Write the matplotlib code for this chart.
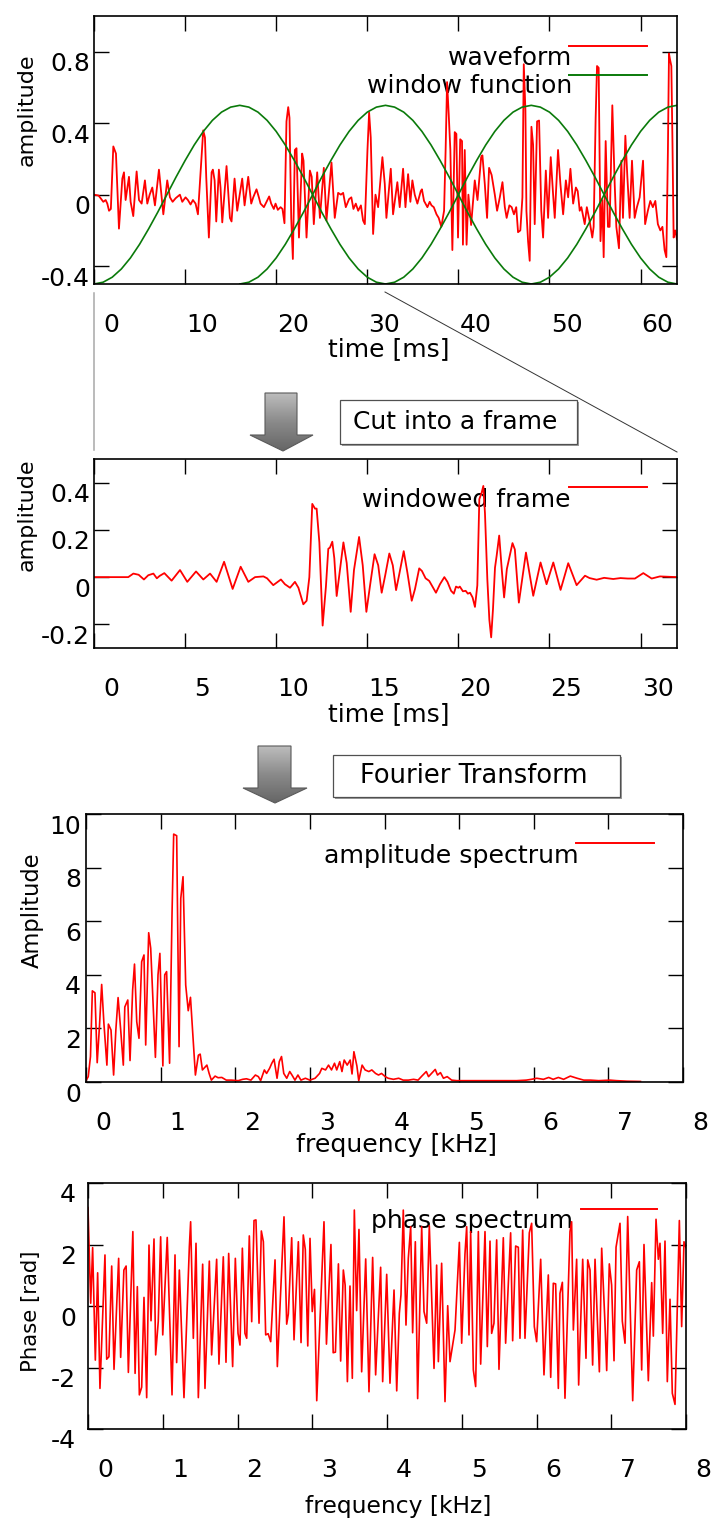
import numpy as np
import matplotlib
matplotlib.use('Agg')
import matplotlib.pyplot as plt
from matplotlib.patches import Polygon, Rectangle
from matplotlib.lines import Line2D
from matplotlib.colors import LinearSegmentedColormap
from matplotlib.transforms import ScaledTranslation

W, H = 713, 1521

# speech waveform, time [ms] / amplitude
wave_t = [0.0, 0.5, 0.73, 1.02, 1.28, 1.46, 1.65, 1.85, 2.12, 2.27, 2.41, 2.74, 3.11, 3.29, 3.47,
          3.84, 4.02, 4.31, 4.68, 4.94, 5.23, 5.59, 5.85, 6.11, 6.40, 6.69, 7.13, 7.61, 8.04, 8.34,
          8.63, 8.96, 9.43, 9.69, 10.05, 10.31, 10.60, 10.86, 11.15, 11.41, 11.70, 11.99, 12.18,
          12.32, 12.61, 12.91, 13.05, 13.24, 13.42, 13.71, 13.89, 14.08, 14.55, 14.92, 15.10, 15.43,
          15.72, 16.27, 16.53, 16.93, 17.26, 17.48, 17.84, 18.10, 18.28, 18.65, 18.94, 19.23, 19.45,
          19.74, 19.93, 20.18, 20.48, 20.69, 20.91, 21.13, 21.32, 21.46, 21.65, 21.83, 22.05, 22.23,
          22.5, 22.85, 23.0, 23.33, 23.7, 23.9, 24.13, 24.5, 24.8, 25.23, 25.52, 26.07, 26.43, 26.8,
          27.1, 27.35, 27.64, 28.0, 28.25, 28.48, 28.74, 29.0, 29.3, 29.54, 29.73, 30.02, 30.2,
          30.38, 30.64, 30.9, 31.19, 31.66, 31.92, 32.1, 32.58, 32.83, 33.3, 33.56, 33.93, 34.19,
          34.48, 34.73, 34.95, 35.21, 35.5, 35.87, 36.0, 36.23, 36.6, 36.85, 37.05, 37.3, 37.6,
          37.84, 38.13, 38.43, 38.6, 38.76, 38.94, 39.12, 39.34, 39.6, 39.78, 39.96, 40.2, 40.4,
          40.5, 40.7, 40.9, 41.1, 41.4, 41.8, 42.1, 42.5, 42.64, 42.9, 43.15, 43.37, 43.65, 44.0,
          44.25, 44.55, 44.84, 45.1, 45.3, 45.6, 45.85, 46.1, 46.35, 46.55, 46.8, 47.03, 47.18,
          47.36, 47.47, 47.65, 47.83, 48.02, 48.2, 48.38, 48.64, 48.86, 49.1, 49.3, 49.6, 49.85,
          50.14, 50.4, 50.58, 50.94, 51.2, 51.5, 51.8, 52.05, 52.3, 52.6, 52.9, 53.1, 53.32, 53.5,
          53.87, 54.1, 54.4, 54.7, 54.85, 55.07, 55.22, 55.4, 55.6, 55.8, 55.95, 56.17, 56.42,
          56.6, 56.9, 57.16, 57.34, 57.63, 57.89, 58.07, 58.33, 58.55, 58.8, 59.06, 59.35, 59.6,
          59.9, 60.27, 60.5, 60.8, 61.07, 61.35, 61.62, 61.9, 62.17, 62.4, 62.64, 62.83, 63.0,
          63.12, 63.22, 63.38, 63.5, 63.63, 63.8, 64.0]
wave_v = [0.0, -0.005, -0.02, -0.04, -0.03, -0.05, -0.09, -0.08, 0.27, 0.25, 0.23, -0.19, 0.09, 0.125,
          -0.03, 0.10, -0.04, -0.12, 0.13, -0.03, -0.05, 0.08, -0.05, 0.0, 0.04, -0.06, 0.14, -0.11,
          0.08, -0.015, -0.04, -0.02, 0.0, -0.04, -0.015, -0.03, -0.055, -0.03, -0.05, -0.11, 0.13,
          0.36, 0.32, 0.10, -0.24, 0.125, 0.14, 0.08, -0.15, 0.14, 0.04, -0.155, 0.16, -0.13, -0.15,
          0.09, -0.09, 0.09, -0.06, 0.10, -0.05, -0.015, 0.03, -0.015, -0.05, -0.07, -0.04, -0.01,
          -0.05, -0.08, -0.05, -0.085, -0.07, -0.08, -0.16, 0.41, 0.49, 0.43, -0.13, -0.36, 0.25,
          0.26, -0.24, 0.23, 0.19, -0.24, 0.135, 0.10, -0.165, 0.125, -0.13, 0.15, -0.145, 0.18,
          -0.13, 0.01, 0.0, 0.01, -0.07, -0.025, -0.015, -0.08, -0.05, -0.09, -0.06, -0.145, -0.165,
          0.25, 0.46, 0.32, -0.22, 0.0, -0.07, 0.21, 0.06, -0.13, 0.145, -0.11, 0.07, -0.07, 0.145,
          -0.07, 0.115, -0.04, 0.08, 0.0, -0.05, 0.02, 0.03, -0.035, -0.07, -0.04, -0.06, -0.07,
          -0.11, -0.13, -0.18, -0.09, 0.25, 0.63, 0.45, 0.25, -0.31, 0.35, 0.34, -0.24, 0.31, 0.30,
          -0.28, 0.25, -0.28, 0.0, -0.17, 0.08, -0.03, 0.21, 0.22, 0.06, -0.13, 0.15, 0.11, 0.0,
          -0.09, -0.015, 0.07, -0.07, -0.13, -0.06, -0.07, -0.11, -0.07, -0.21, -0.2, -0.015, 0.73,
          0.47, -0.09, -0.26, -0.37, 0.38, 0.28, -0.165, 0.41, 0.415, -0.09, -0.24, 0.135, -0.13,
          0.21, 0.0, -0.13, 0.25, 0.06, -0.11, 0.08, -0.015, 0.145, -0.05, 0.04, 0.02, -0.09, -0.07,
          -0.165, -0.07, -0.145, -0.24, -0.18, 0.43, 0.72, 0.71, -0.26, -0.03, -0.35, 0.30, -0.18,
          -0.18, 0.50, 0.06, -0.18, -0.30, 0.19, -0.13, 0.33, 0.10, -0.13, 0.19, -0.13, -0.07,
          -0.015, 0.19, -0.165, -0.09, -0.035, -0.07, -0.035, -0.165, -0.2, -0.18, -0.31, -0.35,
          0.24, 0.79, 0.76, 0.72, 0.3, -0.24, -0.2, -0.25]

# one analysis window over a 32 ms frame, shifted by 16 ms
win_t = list(range(33))
win_v = [-0.5, -0.49, -0.462, -0.416, -0.354, -0.278, -0.191, -0.098, 0.0, 0.098, 0.191, 0.278,
         0.354, 0.416, 0.462, 0.49, 0.5, 0.49, 0.462, 0.416, 0.354, 0.278, 0.191, 0.098, 0.0,
         -0.098, -0.191, -0.278, -0.354, -0.416, -0.462, -0.49, -0.5]
frame_starts = [0, 16, 32, 48]

# first frame after windowing
frame_t = [0.0, 1.88, 2.16, 2.45, 2.74, 2.98, 3.26, 3.45, 3.6, 3.86, 4.26, 4.72, 5.12, 5.6, 6.0,
           6.37, 6.73, 7.14, 7.61, 8.05, 8.47, 8.84, 9.3, 9.5, 9.84, 10.26, 10.48, 10.76, 11.03,
           11.22, 11.49, 11.67, 11.82, 11.98, 12.13, 12.22, 12.37, 12.55, 12.73, 12.86, 12.95,
           13.08, 13.19, 13.32, 13.69, 13.87, 14.09, 14.27, 14.55, 14.75, 14.95, 15.18, 15.4, 15.6,
           15.79, 15.98, 16.21, 16.4, 16.58, 16.75, 17.0, 17.2, 17.44, 17.62, 17.85, 18.0, 18.2,
           18.4, 18.77, 18.99, 19.23, 19.4, 19.6, 19.75, 19.87, 20.0, 20.08, 20.25, 20.4, 20.52,
           20.64, 20.78, 20.91, 21.04, 21.15, 21.28, 21.37, 21.46, 21.59, 21.7, 21.8, 21.9, 22.01,
           22.1, 22.24, 22.38, 22.51, 22.66, 22.97, 23.1, 23.32, 23.71, 24.11, 24.51, 24.84, 25.21,
           25.61, 26.03, 26.49, 26.95, 27.2, 27.59, 28.0, 28.5, 28.9, 29.3, 29.69, 30.15, 30.61,
           31.06, 32.0]
frame_v = [0.0, 0.0, 0.015, 0.01, -0.01, 0.008, 0.015, -0.005, 0.005, 0.017, -0.015, 0.03, -0.02,
           0.024, -0.01, 0.015, -0.02, 0.065, -0.05, 0.044, -0.02, 0.0, 0.003, -0.005, -0.034,
           -0.01, -0.03, -0.045, -0.02, -0.045, -0.115, -0.1, 0.0, 0.31, 0.29, 0.29, 0.147, -0.205,
           -0.04, 0.12, 0.125, 0.15, 0.08, -0.08, 0.147, 0.06, -0.147, 0.03, 0.17, 0.05, -0.147,
           -0.02, 0.097, 0.05, -0.066, 0.006, 0.1, 0.05, -0.055, 0.01, 0.11, 0.02, -0.1, -0.05,
           0.037, 0.026, -0.005, -0.016, -0.066, -0.03, 0.0, -0.02, -0.058, -0.07, -0.04, -0.045,
           -0.04, -0.06, -0.058, -0.07, -0.066, -0.086, -0.126, -0.035, 0.33, 0.358, 0.386, 0.27,
           -0.01, -0.18, -0.255, -0.135, 0.04, 0.09, 0.176, 0.034, -0.086, 0.034, 0.144, 0.117,
           -0.108, 0.104, -0.079, 0.062, -0.03, 0.062, -0.054, 0.059, -0.034, 0.006, -0.004,
           -0.011, -0.003, -0.008, -0.004, -0.006, -0.006, 0.017, -0.006, 0.003, 0.0]

# amplitude spectrum of the frame, frequency [kHz]
spec_f = [0.0, 0.03, 0.06, 0.085, 0.12, 0.15, 0.18, 0.21, 0.24, 0.28, 0.30, 0.335, 0.37, 0.40,
          0.43, 0.465, 0.50, 0.52, 0.56, 0.59, 0.625, 0.65, 0.68, 0.71, 0.746, 0.777, 0.80, 0.84,
          0.867, 0.93, 0.965, 0.99, 1.03, 1.055, 1.08, 1.12, 1.153, 1.175, 1.215, 1.247, 1.27,
          1.30, 1.336, 1.37, 1.40, 1.43, 1.466, 1.506, 1.53, 1.56, 1.62, 1.65, 1.68, 1.73, 1.77,
          1.82, 1.88, 1.95, 2.04, 2.10, 2.15, 2.21, 2.27, 2.31, 2.34, 2.39, 2.42, 2.46, 2.49, 2.52,
          2.56, 2.59, 2.62, 2.65, 2.69, 2.73, 2.76, 2.80, 2.84, 2.88, 2.94, 3.0, 3.07, 3.13, 3.16,
          3.21, 3.25, 3.29, 3.33, 3.36, 3.40, 3.43, 3.46, 3.50, 3.54, 3.565, 3.59, 3.63, 3.655,
          3.70, 3.74, 3.79, 3.83, 3.88, 3.92, 3.96, 4.01, 4.05, 4.12, 4.19, 4.25, 4.32, 4.39, 4.45,
          4.50, 4.56, 4.59, 4.63, 4.68, 4.71, 4.75, 4.79, 4.84, 4.9, 4.97, 5.1, 5.3, 5.5, 5.77,
          5.9, 5.97, 6.04, 6.13, 6.2, 6.26, 6.33, 6.4, 6.49, 6.58, 6.67, 6.76, 6.87, 7.02, 7.11,
          7.25, 7.43]
spec_a = [0.05, 0.2, 0.95, 3.4, 3.33, 0.72, 2.06, 3.64, 2.19, 0.63, 2.16, 1.94, 0.26, 1.94, 3.15,
          1.94, 0.63, 2.8, 3.06, 0.8, 3.43, 4.4, 2.25, 1.63, 4.49, 4.74, 1.38, 5.57, 4.99, 0.92,
          4.0, 4.8, 0.6, 4.0, 4.12, 0.7, 6.3, 9.25, 9.19, 1.32, 6.85, 7.66, 3.62, 2.66, 3.16, 1.82,
          0.26, 1.0, 1.04, 0.45, 0.63, 0.32, 0.07, 0.22, 0.16, 0.17, 0.07, 0.07, 0.05, 0.1, 0.12,
          0.07, 0.26, 0.2, 0.05, 0.45, 0.32, 0.51, 0.7, 0.85, 0.14, 0.76, 0.95, 0.32, 0.14, 0.39,
          0.26, 0.07, 0.26, 0.07, 0.14, 0.07, 0.14, 0.32, 0.51, 0.45, 0.63, 0.45, 0.7, 0.45, 0.76,
          0.39, 0.82, 0.63, 0.82, 0.3, 1.13, 0.6, 0.05, 0.63, 0.45, 0.39, 0.45, 0.32, 0.26, 0.32,
          0.2, 0.14, 0.1, 0.14, 0.07, 0.07, 0.1, 0.07, 0.22, 0.39, 0.2, 0.32, 0.47, 0.26, 0.35,
          0.14, 0.2, 0.07, 0.05, 0.05, 0.05, 0.05, 0.05, 0.07, 0.1, 0.14, 0.1, 0.17, 0.1, 0.17, 0.1,
          0.22, 0.14, 0.07, 0.07, 0.05, 0.07, 0.05, 0.03, 0.02]

# phase spectrum of the frame, frequency [kHz] / phase [rad]
phase_f = [0.0, 0.036, 0.062, 0.098, 0.129, 0.16, 0.227, 0.25, 0.28, 0.317, 0.348, 0.41, 0.437,
           0.48, 0.51, 0.54, 0.6, 0.63, 0.66, 0.687, 0.718, 0.749, 0.785, 0.816, 0.843, 0.883,
           0.905, 0.94, 0.972, 1.0, 1.06, 1.124, 1.164, 1.186, 1.222, 1.284, 1.356, 1.373, 1.409,
           1.445, 1.476, 1.534, 1.565, 1.623, 1.654, 1.721, 1.752, 1.81, 1.846, 1.882, 1.935,
           1.971, 2.007, 2.033, 2.065, 2.1, 2.123, 2.158, 2.19, 2.221, 2.247, 2.288, 2.319, 2.346,
           2.377, 2.41, 2.444, 2.502, 2.533, 2.622, 2.658, 2.68, 2.725, 2.756, 2.814, 2.85, 2.88,
           2.907, 2.94, 2.97, 3.0, 3.03, 3.06, 3.157, 3.19, 3.25, 3.28, 3.31, 3.35, 3.38, 3.416,
           3.44, 3.47, 3.505, 3.536, 3.563, 3.594, 3.625, 3.661, 3.715, 3.759, 3.808, 3.848, 3.915,
           3.942, 3.996, 4.04, 4.094, 4.13, 4.165, 4.187, 4.218, 4.254, 4.285, 4.317, 4.343, 4.379,
           4.41, 4.464, 4.495, 4.531, 4.566, 4.629, 4.664, 4.687, 4.731, 4.776, 4.812, 4.843, 4.91,
           4.968, 4.999, 5.043, 5.066, 5.097, 5.119, 5.155, 5.186, 5.222, 5.253, 5.311, 5.342,
           5.378, 5.4, 5.431, 5.467, 5.498, 5.556, 5.587, 5.654, 5.681, 5.721, 5.757, 5.779, 5.815,
           5.846, 5.904, 5.935, 5.971, 6.002, 6.056, 6.1, 6.158, 6.19, 6.225, 6.256, 6.292, 6.314,
           6.346, 6.381, 6.448, 6.47, 6.493, 6.537, 6.564, 6.618, 6.662, 6.685, 6.716, 6.751,
           6.783, 6.841, 6.872, 6.916, 6.939, 6.974, 7.005, 7.037, 7.064, 7.117, 7.148, 7.184,
           7.22, 7.287, 7.34, 7.376, 7.407, 7.438, 7.496, 7.541, 7.563, 7.599, 7.63, 7.652, 7.688,
           7.719, 7.75, 7.786, 7.817, 7.853, 7.911, 7.942, 7.973, 8.0]
phase_v = [3.2, 0.09, 1.9, -1.76, 1.08, -2.68, 1.66, -1.73, -1.65, 1.3, -2.06, 1.55, -1.67, 1.17,
           1.3, -2.16, 2.42, -2.19, 0.63, -2.89, -2.64, 0.28, -2.98, 1.98, -0.48, 2.18, -1.59,
           -0.5, 2.25, -0.94, 2.23, -2.89, 1.66, -1.84, 1.17, -2.98, 1.93, 2.74, -1.05, 2.04,
           -2.98, 1.36, -2.68, 1.46, -1.59, 1.52, -1.89, 1.6, -1.83, 1.71, -1.97, 1.55, -0.89,
           -1.27, 1.88, -0.89, -1.05, 2.28, -0.51, 2.78, 2.8, -0.56, 2.44, 2.09, -0.94, -0.9,
           -1.16, 1.5, -1.97, 2.9, -0.59, -0.26, 2.22, -1.1, 2.09, -1.19, 2.31, 1.84, -1.3, 2.2,
           -0.18, 0.54, -3.08, 2.74, -1.24, 2.0, -1.52, -1.5, 1.37, -1.79, 1.17, 0.68, -2.46, 0.65,
           -2.35, 3.12, -0.15, 2.49, -2.14, 1.53, -2.79, 1.58, -2.24, 1.26, -2.46, 1.03, -2.51,
           0.52, -2.76, -0.24, 0.36, 3.12, -0.62, 1.55, 2.58, -0.87, 2.09, -3.01, 2.58, -0.18,
           -0.56, 2.61, -2.03, 1.33, -1.81, 1.39, -3.11, 0.01, -1.81, -0.78, 2.07, -1.21, 1.69,
           2.58, -0.94, 2.42, -2.08, -2.62, 2.42, -1.89, 2.42, -1.32, 2.11, -0.89, -0.56, 2.15,
           -2.06, 2.22, -1.21, 2.38, -1.13, 1.95, 1.91, -1.05, 2.47, -1.05, 2.38, 2.69, -0.67,
           -1.16, 1.52, -2.24, 1.01, -2.32, 0.74, 0.72, -2.68, 0.41, 0.77, -3.0, 2.42, 2.74, -0.78,
           1.52, -2.57, 1.52, -1.7, 1.5, 1.17, -1.92, 1.52, -2.14, 1.88, -0.56, -2.1, 1.37, 0.68,
           -1.78, 1.91, 2.69, -0.49, -1.21, 2.91, -3.08, 1.17, 1.44, -2.08, 2.0, -2.43, 0.76,
           -0.98, 2.82, 1.52, 2.04, -0.89, 2.11, -2.46, 0.22, -2.84, -3.2, 2.78, -0.67, 2.09, 1.9]

RED = '#ff0000'
GREEN = '#0a7a0a'
FS = 18

fig = plt.figure(figsize=(W / 100, H / 100), dpi=100)

# full-figure layer in pixel units for arrows, captions and connectors
ov = fig.add_axes([0, 0, 1, 1], zorder=0)
ov.axis('off')


def pane(l, t, r, b):
    return fig.add_axes([l / W, 1 - b / H, (r - l) / W, (b - t) / H], zorder=1)


def style(ax, xt, xl, yt, yl, ygap):
    ax.set_xticks(xt, xl)
    ax.set_yticks(yt, yl)
    ax.tick_params(direction='in', length=10.5, width=1.0, top=True, right=True,
                   labelsize=FS)
    ax.tick_params(axis='x', pad=21)
    ax.tick_params(axis='y', pad=ygap * 0.72)
    for s in ax.spines.values():
        s.set_linewidth(1.2)
    # tick labels sit shifted off their ticks
    dx = ScaledTranslation(17 / 100, 0, fig.dpi_scale_trans)
    for lbl in ax.get_xticklabels():
        lbl.set_transform(lbl.get_transform() + dx)
    dy = ScaledTranslation(0, -10 / 100, fig.dpi_scale_trans)
    for lbl in ax.get_yticklabels():
        lbl.set_transform(lbl.get_transform() + dy)


def key(ax, text, xr, base, ly, lx0, lx1, color, size=FS):
    ax.text(xr, base, text, transform=ov.transData, ha='right', va='baseline',
            fontsize=size, zorder=1)
    ax.add_artist(Line2D([lx0, lx1], [ly, ly], transform=ov.transData, color=color,
                         lw=1.4, zorder=3, clip_on=False))


def labels(ax, xlab, xpos, ylab, ypos, xsize=FS, ysize=16):
    ax.set_xlabel(xlab, fontsize=xsize, va='center')
    ax.xaxis.set_label_coords(*xpos, transform=ov.transData)
    ax.set_ylabel(ylab, fontsize=ysize, va='center')
    ax.yaxis.set_label_coords(*ypos, transform=ov.transData)


# waveform with overlapping windows
ax1 = pane(94, 16, 677, 284)
ax1.plot(wave_t, wave_v, color=RED, lw=1.3, zorder=2)
for s in frame_starts:
    ax1.plot([t + s for t in win_t], win_v, color=GREEN, lw=1.2, zorder=2)
ax1.set_xlim(0, 64)
ax1.set_ylim(-0.5, 1.0)
style(ax1, [0, 10, 20, 30, 40, 50, 60], ['0', '10', '20', '30', '40', '50', '60'],
      [-0.4, 0, 0.4, 0.8], ['-0.4', '0', '0.4', '0.8'], 4)
key(ax1, 'waveform', 572, 65, 46, 569, 647, RED)
key(ax1, 'window function', 572, 93, 75, 569, 647, GREEN)
labels(ax1, 'time [ms]', (389, 349), 'amplitude', (27, 110))

# windowed frame
ax2 = pane(94, 459, 677, 648)
ax2.plot(frame_t, frame_v, color=RED, lw=1.3, zorder=2)
ax2.set_xlim(0, 32)
ax2.set_ylim(-0.3, 0.5)
style(ax2, [0, 5, 10, 15, 20, 25, 30], ['0', '5', '10', '15', '20', '25', '30'],
      [-0.2, 0, 0.2, 0.4], ['-0.2', '0', '0.2', '0.4'], 4)
key(ax2, 'windowed frame', 571, 507, 487, 569, 647, RED)
labels(ax2, 'time [ms]', (389, 714), 'amplitude', (27, 515))

# amplitude spectrum
ax3 = pane(86, 814, 683, 1082)
ax3.plot(spec_f, spec_a, color=RED, lw=1.2, zorder=2)
ax3.set_xlim(0, 8)
ax3.set_ylim(0, 10)
style(ax3, list(range(9)), [str(i) for i in range(9)],
      [0, 2, 4, 6, 8, 10], ['0', '2', '4', '6', '8', '10'], 5)
key(ax3, 'amplitude spectrum', 579, 863, 843, 576, 654, RED, size=18.2)
labels(ax3, 'frequency [kHz]', (396, 1145), 'Amplitude', (32, 910), xsize=18.2, ysize=16.3)

# phase spectrum
ax4 = pane(88, 1183, 686, 1429)
ax4.plot(phase_f, phase_v, color=RED, lw=1.2, zorder=2)
ax4.set_xlim(0, 8)
ax4.set_ylim(-4, 4)
style(ax4, list(range(9)), [str(i) for i in range(9)],
      [-4, -2, 0, 2, 4], ['-4', '-2', '0', '2', '4'], 12)
key(ax4, 'phase spectrum', 573, 1228, 1209, 581, 657, RED)
labels(ax4, 'frequency [kHz]', (398, 1507), 'Phase [rad]', (31, 1311), xsize=16.8, ysize=15.3)

# zoom connectors from the first window to the frame plot
ov.plot([94, 94], [293, 450], color='#a8a8a8', lw=1.1)
ov.plot([385, 677], [292, 452], color='#333333', lw=0.7)

shade = LinearSegmentedColormap.from_list('shade', ['#bcbcbc', '#8a8a8a', '#666666'])


def down_arrow(x0, x1, top, neck, hx0, hx1, tip_x, tip_y):
    pts = [(x0, top), (x1, top), (x1, neck), (hx1, neck), (tip_x, tip_y), (hx0, neck), (x0, neck)]
    poly = Polygon(pts, closed=True, fc='none', ec='#5a5a5a', lw=0.8, zorder=3)
    ov.add_patch(poly)
    grad = np.linspace(0, 1, 64).reshape(-1, 1)
    im = ov.imshow(grad, cmap=shade, extent=(hx0, hx1, tip_y, top), origin='upper',
                   aspect='auto', interpolation='bilinear', zorder=2)
    im.set_clip_path(poly)


def caption(l, t, r, b, text, tx, size):
    ov.add_patch(Rectangle((l + 2, t + 2), r - l, b - t, fc='#9c9c9c', ec='none', zorder=2))
    ov.add_patch(Rectangle((l, t), r - l, b - t, fc='white', ec='#505050', lw=0.9, zorder=3))
    ov.text(tx, (t + b) / 2, text, ha='left', va='center', fontsize=size, zorder=4)


down_arrow(265, 297, 393, 435, 250, 313, 283, 451)
caption(340, 400, 577, 444, 'Cut into a frame', 353, 18)
down_arrow(258, 291, 746, 788, 243, 307, 275, 803)
caption(333, 755, 620, 797, 'Fourier Transform', 360, 18.5)

ov.set_xlim(0, W)
ov.set_ylim(H, 0)

fig.savefig('out.png', dpi=100)
